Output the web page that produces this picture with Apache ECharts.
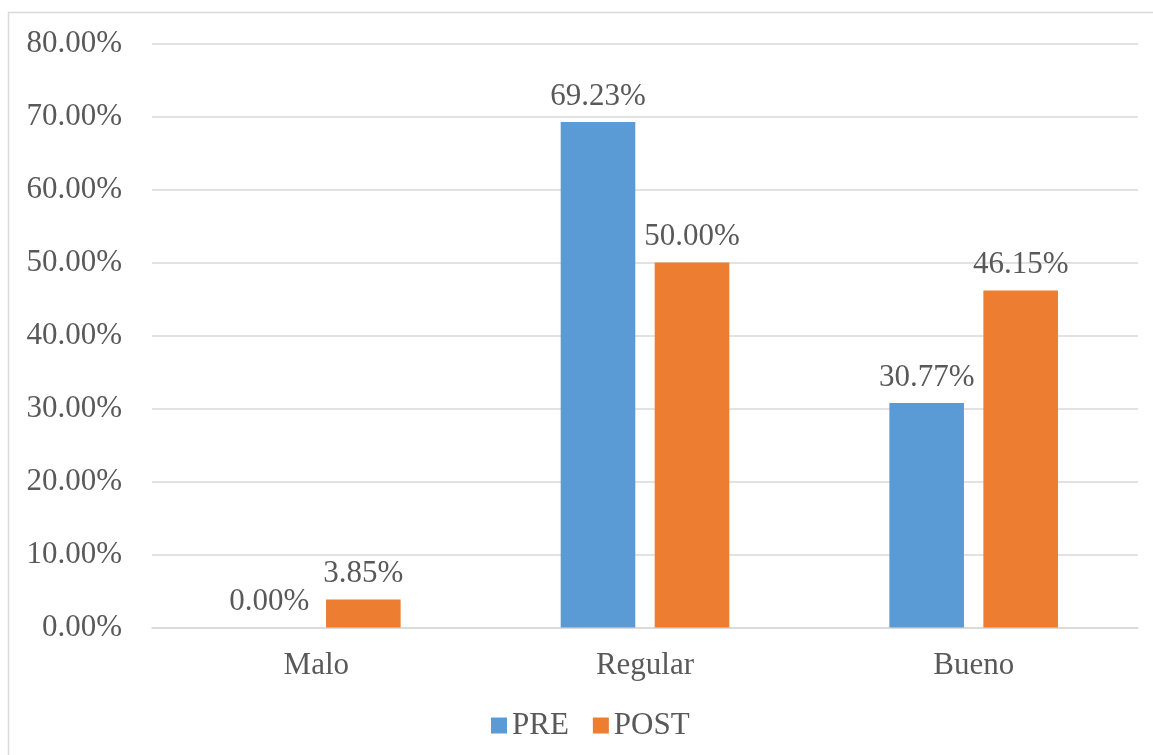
<!DOCTYPE html>
<html>
<head>
<meta charset="utf-8">
<script src="https://cdn.jsdelivr.net/npm/echarts@6/dist/echarts.min.js"></script>
<style>
  html, body { margin: 0; padding: 0; background: #fff; }
  #chart { width: 1153px; height: 755px; }
</style>
</head>
<body>
<div id="chart"></div>
<script>
const categories = ['Malo', 'Regular', 'Bueno'];
const preValues = [0.00, 69.23, 30.77];
const postValues = [3.85, 50.00, 46.15];
const seriesNames = ['PRE', 'POST'];

const FONT = '"Liberation Serif", "Times New Roman", serif';
const TEXT = '#595959';
const GRID = '#d9d9d9';

const chart = echarts.init(document.getElementById('chart'), null, { renderer: 'canvas' });

const labelStyle = {
  show: true,
  position: 'top',
  distance: 10,
  color: TEXT,
  fontFamily: FONT,
  fontSize: 31,
  formatter: p => p.value.toFixed(2) + '%'
};

chart.setOption({
  backgroundColor: '#fff',
  animation: false,
  graphic: [{
    type: 'rect',
    shape: { x: 8.5, y: 12.5, width: 1160, height: 760 },
    style: { fill: 'none', stroke: GRID, lineWidth: 1.5 },
    silent: true
  }],
  grid: { left: 152, right: 15, top: 43.5, bottom: 127.5 },
  legend: {
    data: seriesNames,
    bottom: 9,
    left: 486,
    itemWidth: 16,
    itemHeight: 16,
    itemGap: 24,
    icon: 'rect',
    textStyle: { color: TEXT, fontFamily: FONT, fontSize: 31 }
  },
  xAxis: {
    type: 'category',
    data: categories,
    axisLine: { show: true, lineStyle: { color: GRID, width: 1.5 } },
    axisTick: { show: false },
    axisLabel: { color: TEXT, fontFamily: FONT, fontSize: 31, margin: 23 }
  },
  yAxis: {
    type: 'value',
    min: 0,
    max: 80,
    interval: 10,
    axisLine: { show: false },
    axisTick: { show: false },
    splitLine: { lineStyle: { color: GRID, width: 1.5 } },
    axisLabel: {
      color: TEXT, fontFamily: FONT, fontSize: 31, margin: 30,
      formatter: v => v.toFixed(2) + '%'
    }
  },
  series: [
    {
      name: seriesNames[0],
      type: 'bar',
      data: preValues,
      barWidth: '22.7%',
      barGap: '26%',
      itemStyle: { color: '#5B9BD5' },
      label: labelStyle
    },
    {
      name: seriesNames[1],
      type: 'bar',
      data: postValues,
      barWidth: '22.7%',
      barGap: '26%',
      itemStyle: { color: '#ED7D31' },
      label: labelStyle
    }
  ]
});
</script>
</body>
</html>
